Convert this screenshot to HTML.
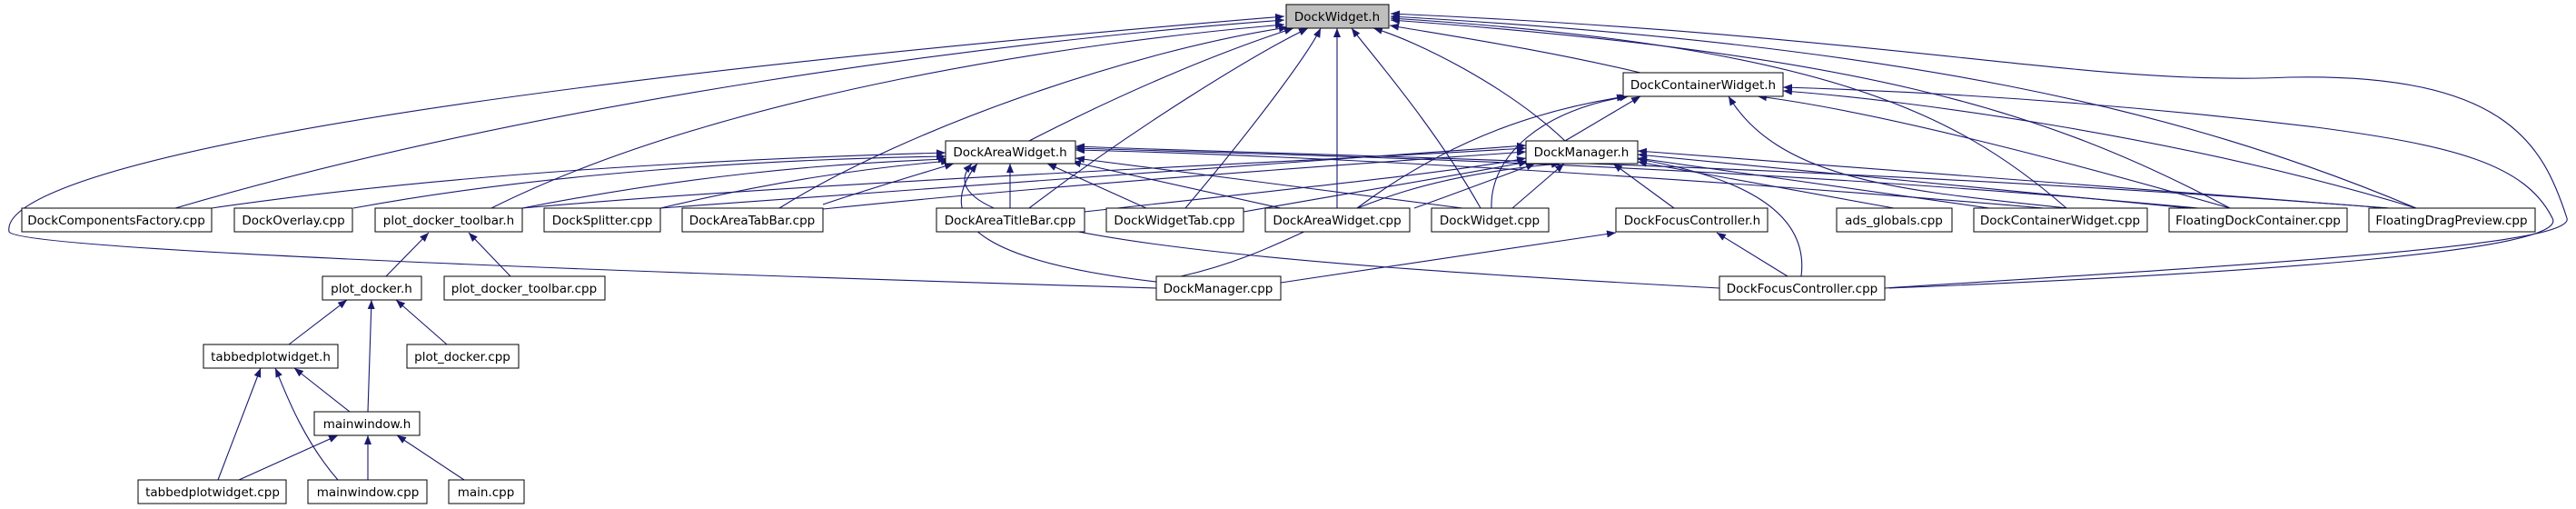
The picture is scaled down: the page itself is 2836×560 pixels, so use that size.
<!DOCTYPE html>
<html><head><meta charset="utf-8"><style>
html,body{margin:0;padding:0;background:#fff;width:2836px;height:560px;overflow:hidden}
svg text{font-family:"DejaVu Sans","Liberation Sans",sans-serif;font-size:13.5px;fill:#000}
</style></head><body>
<svg width="2836" height="560" viewBox="0 0 2836 560" xmlns="http://www.w3.org/2000/svg">
<defs><marker id="a" viewBox="0 0 10 8" refX="10" refY="4" markerWidth="10" markerHeight="8" markerUnits="userSpaceOnUse" orient="auto"><path d="M0,0L10,4L0,8z" fill="#191970"/></marker></defs>
<g fill="none" stroke="#191970" stroke-width="1.1" marker-end="url(#a)">
<!-- to DockWidget.h -->
<path d="M193,229 C600,110 1100,45 1414,22"/>
<path d="M541,229 C800,100 1200,45 1414,27"/>
<path d="M858,229 C1000,140 1250,55 1418,30"/>
<path d="M1133,155 C1250,95 1350,55 1424,31"/>
<path d="M1133,229 C1250,140 1380,60 1440,31"/>
<path d="M1305,229 C1380,140 1440,60 1454,31"/>
<path d="M1472,229 L1472,31"/>
<path d="M1630,229 C1580,140 1510,60 1488,31"/>
<path d="M1723,155 C1660,95 1560,45 1512,31"/>
<path d="M1806,80 C1700,55 1600,40 1530,28"/>
<path d="M2275,229 C2150,120 2000,50 1531,20"/>
<path d="M2455,229 C2250,120 2050,60 1531,22"/>
<path d="M2660,229 C2400,120 2100,50 1531,18"/>
<path d="M1273,317 C700,300 20,275 10,255 C0,200 300,110 1414,18"/>
<path d="M2075,317 C2500,290 2836,270 2826,240 C2800,160 2760,80 2520,85 C2300,95 2100,40 1531,15"/>
<!-- to DockContainerWidget.h -->
<path d="M1723,155 L1806,106"/>
<path d="M1494,229 C1600,150 1700,120 1790,106"/>
<path d="M1642,229 C1640,170 1700,120 1793,106"/>
<path d="M2276,229 C2100,210 1960,200 1903,106"/>
<path d="M2455,229 C2250,170 2050,120 1935,106"/>
<path d="M2660,229 C2400,150 2100,110 1963,100"/>
<path d="M2080,317 C2500,300 2830,275 2810,240 C2780,180 2700,160 2550,140 C2300,110 2100,100 1963,96"/>
<!-- to DockAreaWidget.h -->
<path d="M233,229 C500,190 800,175 1041,168"/>
<path d="M389,229 C600,190 850,175 1041,172"/>
<path d="M575,229 C750,195 900,180 1043,175"/>
<path d="M727,229 C850,200 950,185 1046,177"/>
<path d="M906,225 C950,210 1000,195 1050,180"/>
<path d="M1112,229 L1112,180"/>
<path d="M1262,229 L1153,180"/>
<path d="M1410,229 L1180,178"/>
<path d="M1610,229 L1184,174"/>
<path d="M1273,310 C1100,290 1020,250 1076,180"/>
<path d="M1893,317 C1400,290 1000,260 1070,180"/>
<path d="M2250,229 C1800,190 1400,170 1184,165"/>
<path d="M2420,229 C1900,180 1400,170 1184,163"/>
<path d="M2630,229 C2000,180 1400,170 1184,161"/>
<!-- to DockManager.h -->
<path d="M575,229 C900,200 1400,180 1680,163"/>
<path d="M906,230 C1200,200 1500,180 1680,167"/>
<path d="M727,229 C1100,200 1450,175 1680,160"/>
<path d="M1194,233 C1400,210 1600,190 1680,174"/>
<path d="M1369,233 C1500,210 1620,190 1682,178"/>
<path d="M1557,229 C1610,210 1650,195 1690,180"/>
<path d="M1665,229 L1722,180"/>
<path d="M1300,304 C1450,270 1480,200 1718,180"/>
<path d="M1843,229 L1776,180"/>
<path d="M2085,229 L1803,178"/>
<path d="M2190,229 L1803,174"/>
<path d="M2410,229 L1803,170"/>
<path d="M2630,229 L1803,166"/>
<path d="M1983,304 C1990,250 1950,200 1803,175"/>
<!-- to DockFocusController.h -->
<path d="M1410,311 L1779,256"/>
<path d="M1968,304 L1890,256"/>
<!-- plot_docker chain -->
<path d="M425,304 L472,256"/>
<path d="M562,304 L516,256"/>
<path d="M318,379 L382,330"/>
<path d="M492,379 L436,330"/>
<path d="M405,453 L409,330"/>
<path d="M385,453 L324,405"/>
<path d="M240,528 L287,405"/>
<path d="M372,528 C330,480 310,420 303,405"/>
<path d="M263,528 L372,479"/>
<path d="M405,528 L405,479"/>
<path d="M511,528 L437,479"/>
</g>
<g fill="#fff" stroke="#000" stroke-width="1">
<rect x="1416" y="5" width="113" height="26" fill="#bfbfbf"/>
<rect x="1787" y="80" width="176" height="26"/>
<rect x="1041" y="155" width="143" height="25"/>
<rect x="1680" y="155" width="123" height="25"/>
<rect x="24" y="229" width="209" height="26"/>
<rect x="258" y="229" width="130" height="26"/>
<rect x="413" y="229" width="162" height="26"/>
<rect x="599" y="229" width="128" height="26"/>
<rect x="751" y="229" width="155" height="26"/>
<rect x="1031" y="229" width="163" height="26"/>
<rect x="1218" y="229" width="151" height="26"/>
<rect x="1393" y="229" width="159" height="26"/>
<rect x="1576" y="229" width="129" height="26"/>
<rect x="1779" y="229" width="167" height="26"/>
<rect x="2022" y="229" width="127" height="26"/>
<rect x="2173" y="229" width="191" height="26"/>
<rect x="2388" y="229" width="196" height="26"/>
<rect x="2608" y="229" width="183" height="26"/>
<rect x="355" y="304" width="109" height="26"/>
<rect x="489" y="304" width="177" height="26"/>
<rect x="1273" y="304" width="137" height="26"/>
<rect x="1893" y="304" width="182" height="26"/>
<rect x="224" y="379" width="148" height="26"/>
<rect x="448" y="379" width="123" height="26"/>
<rect x="346" y="453" width="116" height="26"/>
<rect x="152" y="528" width="163" height="26"/>
<rect x="339" y="528" width="131" height="26"/>
<rect x="494" y="528" width="83" height="26"/>
</g>
<g text-anchor="middle">
<text x="1472" y="23">DockWidget.h</text>
<text x="1875" y="98">DockContainerWidget.h</text>
<text x="1112" y="172">DockAreaWidget.h</text>
<text x="1741" y="172">DockManager.h</text>
<text x="128" y="247">DockComponentsFactory.cpp</text>
<text x="323" y="247">DockOverlay.cpp</text>
<text x="494" y="247">plot_docker_toolbar.h</text>
<text x="663" y="247">DockSplitter.cpp</text>
<text x="828" y="247">DockAreaTabBar.cpp</text>
<text x="1112" y="247">DockAreaTitleBar.cpp</text>
<text x="1293" y="247">DockWidgetTab.cpp</text>
<text x="1472" y="247">DockAreaWidget.cpp</text>
<text x="1640" y="247">DockWidget.cpp</text>
<text x="1863" y="247">DockFocusController.h</text>
<text x="2085" y="247">ads_globals.cpp</text>
<text x="2268" y="247">DockContainerWidget.cpp</text>
<text x="2486" y="247">FloatingDockContainer.cpp</text>
<text x="2699" y="247">FloatingDragPreview.cpp</text>
<text x="409" y="322">plot_docker.h</text>
<text x="577" y="322">plot_docker_toolbar.cpp</text>
<text x="1341" y="322">DockManager.cpp</text>
<text x="1984" y="322">DockFocusController.cpp</text>
<text x="298" y="397">tabbedplotwidget.h</text>
<text x="509" y="397">plot_docker.cpp</text>
<text x="404" y="471">mainwindow.h</text>
<text x="234" y="546">tabbedplotwidget.cpp</text>
<text x="405" y="546">mainwindow.cpp</text>
<text x="535" y="546">main.cpp</text>
</g>
</svg>
</body></html>
